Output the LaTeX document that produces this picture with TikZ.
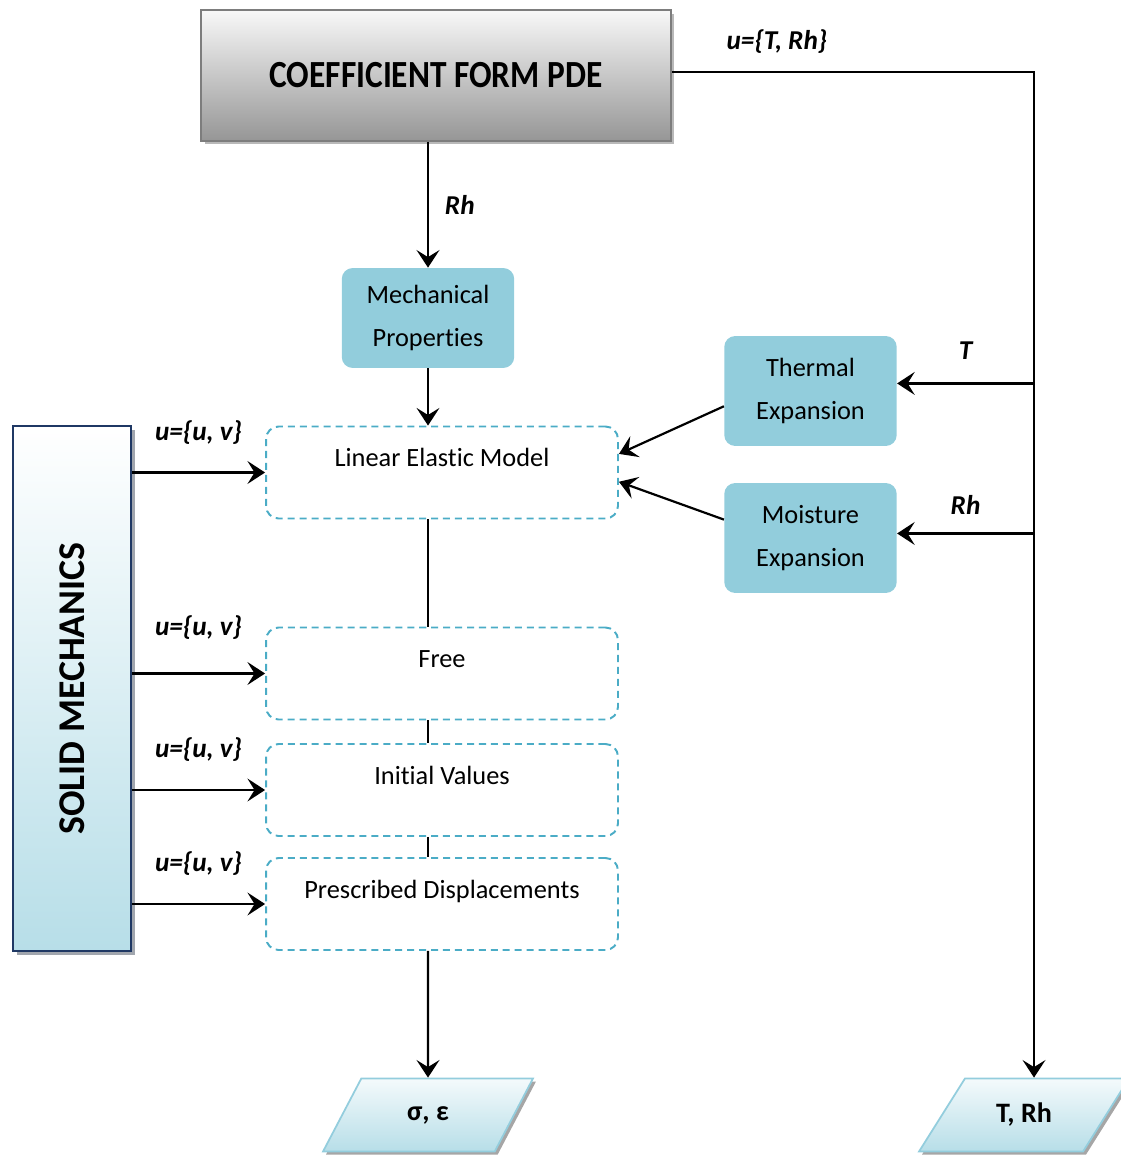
\documentclass[tikz,border=0pt]{standalone}
\usepackage{fontspec}
\setmainfont{Carlito}[Ligatures=NoCommon]
\usetikzlibrary{arrows.meta,positioning,shapes.geometric,shadows,calc}
\definecolor{pdeTop}{RGB}{248,248,248}
\definecolor{pdeBot}{RGB}{150,150,150}
\definecolor{pdeEdge}{RGB}{125,125,125}
\definecolor{aqua}{RGB}{146,205,220}
\definecolor{aquaL}{RGB}{183,222,232}
\definecolor{dashC}{RGB}{75,172,198}
\definecolor{navy}{RGB}{31,56,100}
\definecolor{paraE}{RGB}{147,205,221}

\begin{document}
\begin{tikzpicture}[x=0.02cm, y=-0.02cm, font=\fontsize{15}{24}\selectfont,
  >={Stealth[length=10pt, width=13pt, inset=4pt]},
  conn/.style={line width=1.25pt},
  pdebox/.style={rectangle, draw=pdeEdge, line width=1.1pt, top color=pdeTop, bottom color=pdeBot,
            minimum width=9.4cm, minimum height=2.62cm, font=\fontsize{19}{22}\selectfont\bfseries,
            drop shadow={shadow xshift=0.07cm, shadow yshift=-0.07cm, fill=gray!55, opacity=1}},
  prop/.style={rectangle, rounded corners=0.22cm, fill=aqua, align=center,
            minimum width=3.45cm, minimum height=2cm},
  model/.style={rectangle, rounded corners=0.25cm, draw=dashC, line width=1.1pt,
            dash pattern=on 4pt off 2.8pt, minimum width=7.04cm, inner ysep=0pt,
            text height=0.8cm, text depth=1.04cm},
  smbox/.style={rectangle, draw=navy, line width=1.1pt, top color=white, bottom color=aquaL,
            minimum width=2.36cm, minimum height=10.5cm, font=\fontsize{21.5}{24}\selectfont\bfseries,
            drop shadow={shadow xshift=0.08cm, shadow yshift=-0.08cm, fill=gray!70!navy!60, opacity=1}},
  outbox/.style={trapezium, trapezium left angle=37.5, trapezium right angle=142.5, trapezium stretches body,
            draw=paraE, line width=1pt, top color=white!85!aquaL, bottom color=aquaL,
            minimum width=4.2cm, minimum height=1.46cm, font=\fontsize{16}{20}\selectfont\bfseries,
            drop shadow={shadow xshift=0.06cm, shadow yshift=-0.06cm, fill=gray!70, opacity=1}},
  lbl/.style={font=\fontsize{15.5}{18}\selectfont\bfseries\itshape}]
  \useasboundingbox (0,0) rectangle (1120,1155);
  % blocks
  \node[pdebox] (pde) at (436,75.5) {\scalebox{1}[1.15]{COEFFICIENT FORM PDE}};
  \node[prop] (mech) at (428,318) {Mechanical\\Properties};
  \node[model] (lem) at (442,472.5) {Linear Elastic Model};
  \node[model] (free) at (442,673.5) {Free};
  \node[model] (init) at (442,790) {Initial Values};
  \node[model] (presc) at (442,904) {Prescribed Displacements};
  \node[prop, minimum height=2.2cm] (therm) at (810.5,391) {Thermal\\Expansion};
  \node[prop, minimum height=2.2cm] (moist) at (810.5,538) {Moisture\\Expansion};
  \node[smbox] (sm) at (72,688.5) {\rotatebox{90}{SOLID MECHANICS}};
  \node[outbox] (sig) at (428,1115) {σ, ε};
  \node[outbox] (trh) at (1024,1115) {T, Rh};
  \coordinate (bus) at (1034,72);
  % connectors
  \draw[conn, ->] (mech.north |- pde.south) -- node[right=2mm, lbl]{Rh} (mech.north);
  \draw[conn, ->] (mech.south) -- (mech.south |- lem.north);
  \draw[conn] (lem.south -| mech.south) -- (free.north -| mech.south);
  \draw[conn] (free.south -| mech.south) -- (init.north -| mech.south);
  \draw[conn] (init.south -| mech.south) -- (presc.north -| mech.south);
  \draw[conn, ->] (presc.south -| mech.south) -- (sig.north);
  \draw[conn, ->] (pde.east |- bus) -- node[pos=0.29, above=2.3mm, lbl]{u=\{T, Rh\}} (bus) -- (bus |- trh.north);
  \draw[conn, ->] (bus |- therm.5) -- node[above=3.3mm, lbl]{T} (therm.5);
  \draw[conn, ->] (bus |- moist.3) -- node[above=2.5mm, lbl]{Rh} (moist.3);
  \draw[conn, ->] (therm.190) -- (lem.6);
  \draw[conn, ->] (moist.168) -- (lem.-3);
  \foreach \b/\d in {lem/4.3mm,free/5.5mm,init/4.3mm,presc/4.3mm}
    \draw[conn, ->] (sm.east |- \b.west) -- node[above=\d, lbl]{u=\{u, v\}} (\b.west);
\end{tikzpicture}
\end{document}
